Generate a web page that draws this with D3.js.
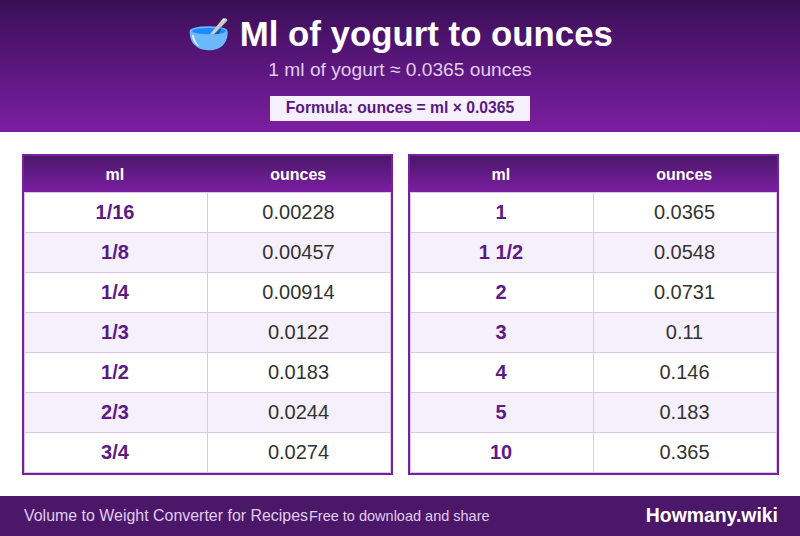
<!DOCTYPE html>
<html>
<head>
<meta charset="utf-8">
<script src="https://cdn.jsdelivr.net/npm/d3@7"></script>
<style>
  html, body { margin: 0; padding: 0; background: #fff; }
  #chart { position: relative; width: 800px; height: 536px; overflow: hidden; font-family: "Liberation Sans", Arial, sans-serif; }
  #chart div { position: absolute; box-sizing: border-box; white-space: nowrap; }
  .center { text-align: center; }
</style>
</head>
<body>
<div id="chart"></div>
<script>
const columns = ["ml", "ounces"];
const leftMl = ["1/16", "1/8", "1/4", "1/3", "1/2", "2/3", "3/4"];
const leftOunces = ["0.00228", "0.00457", "0.00914", "0.0122", "0.0183", "0.0244", "0.0274"];
const rightMl = ["1", "1 1/2", "2", "3", "4", "5", "10"];
const rightOunces = ["0.0365", "0.0548", "0.0731", "0.11", "0.146", "0.183", "0.365"];

const lineColor = "#dcc8ec";
const chart = d3.select("#chart");

// small helper, everything is placed by hand in px
function box(parent, left, top, w, h) {
    return parent.append("div")
        .style("left", left + "px")
        .style("top", top + "px")
        .style("width", w + "px")
        .style("height", h + "px");
}

function label(parent, left, top, w, h, size, weight, color, txt) {
    return box(parent, left, top, w, h)
        .attr("class", "center")
        .style("line-height", h + "px")
        .style("font-size", size + "px")
        .style("font-weight", weight)
        .style("color", color)
        .text(txt);
}

// Header band
box(chart, 0, 0, 800, 132)
    .style("background", "linear-gradient(180deg, #3a0f57, #7b1fa2)");

label(chart, 0, 12, 800, 44, 34.8, "bold", "#fff", "🥣 Ml of yogurt to ounces");
label(chart, 0, 58, 800, 24, 19.2, "normal", "#e1cdee", "1 ml of yogurt ≈ 0.0365 ounces");

box(chart, 270, 96, 260, 25).style("background", "#f5f0fb");
label(chart, 270, 95, 260, 25, 15.7, "bold", "#5a1a82", "Formula: ounces = ml × 0.0365");

// One table block
function drawTable(x0, ml, ounces) {
    const rowsData = ml.map((d, i) => ({ ml: d, ounces: ounces[i] }));
    const table = box(chart, x0, 154, 371, 321).style("background", "#7b1fa2");

    const y = d3.scaleBand()
        .domain(d3.range(rowsData.length))
        .range([38, 318]);
    const x = d3.scaleBand()
        .domain(columns)
        .range([1, 368]);

    box(table, 2, 2, 367, 36)
        .style("background", "linear-gradient(180deg, #4a1769, #7b1fa2)");

    table.selectAll(".th")
        .data(columns)
        .enter()
        .append("div")
        .attr("class", "th center")
        .style("left", d => x(d) + "px")
        .style("top", "3px")
        .style("width", x.bandwidth() + "px")
        .style("height", "36px")
        .style("line-height", "36px")
        .style("font-size", "16px")
        .style("font-weight", "bold")
        .style("color", "#fff")
        .text(d => d);

    // rows overlap by one px so neighbours share a single rule
    const rows = table.selectAll(".row")
        .data(rowsData)
        .enter()
        .append("div")
        .attr("class", "row")
        .style("left", "2px")
        .style("top", (d, i) => y(i) + "px")
        .style("width", "367px")
        .style("height", (y.bandwidth() + 1) + "px")
        .style("background", (d, i) => i % 2 ? "#f5f0fb" : "#fff")
        .style("border", "1px solid " + lineColor);

    rows.append("div")
        .attr("class", "center")
        .style("left", "0")
        .style("top", "0")
        .style("width", "183px")
        .style("height", "100%")
        .style("padding-right", "2px")
        .style("line-height", "39px")
        .style("font-size", "20px")
        .style("font-weight", "bold")
        .style("color", "#5c1a87")
        .style("border-right", "1px solid " + lineColor)
        .text(d => d.ml);

    rows.append("div")
        .attr("class", "center")
        .style("left", "183px")
        .style("top", "0")
        .style("width", "181px")
        .style("height", "100%")
        .style("line-height", "39px")
        .style("font-size", "20px")
        .style("color", "#333")
        .text(d => d.ounces);
}

drawTable(22, leftMl, leftOunces);
drawTable(408, rightMl, rightOunces);

// Footer band
box(chart, 0, 496, 800, 40).style("background", "#4a1769");

box(chart, 24, 496, 290, 40)
    .style("line-height", "40px")
    .style("font-size", "15.95px")
    .style("color", "#e1cdee")
    .text("Volume to Weight Converter for Recipes");

box(chart, 309, 496, 200, 40)
    .style("line-height", "40px")
    .style("font-size", "14.5px")
    .style("color", "#e1cdee")
    .text("Free to download and share");

box(chart, 578, 496, 200, 38)
    .style("line-height", "38px")
    .style("text-align", "right")
    .style("font-size", "19.4px")
    .style("font-weight", "bold")
    .style("color", "#fff")
    .text("Howmany.wiki");
</script>
</body>
</html>
